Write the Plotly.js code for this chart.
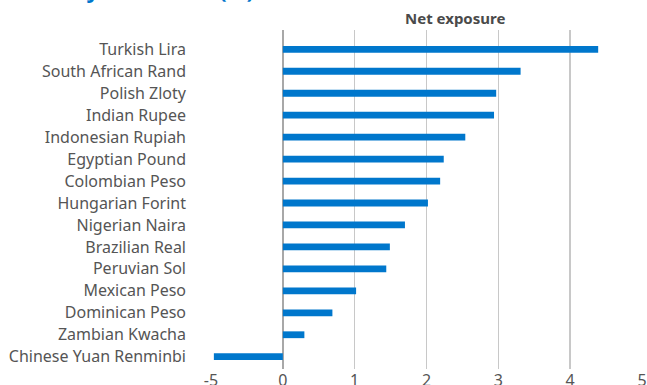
<!DOCTYPE html>
<html>
<head>
<meta charset="utf-8">
<script src="https://cdn.plot.ly/plotly-3.0.1.min.js"></script>
<style>html,body{margin:0;padding:0;background:#fff;}#chart{width:647px;height:385px;}</style>
</head>
<body>
<div id="chart"></div>
<script>
const currencies = [
  "Turkish Lira", "South African Rand", "Polish Zloty", "Indian Rupee",
  "Indonesian Rupiah", "Egyptian Pound", "Colombian Peso", "Hungarian Forint",
  "Nigerian Naira", "Brazilian Real", "Peruvian Sol", "Mexican Peso",
  "Dominican Peso", "Zambian Kwacha", "Chinese Yuan Renminbi"
];
const netExposure = [4.39, 3.31, 2.97, 2.94, 2.54, 2.24, 2.19, 2.02, 1.70, 1.49, 1.44, 1.02, 0.69, 0.30, -4.8];
const tickValues = [-5, 0, 1, 2, 3, 4, 5];
const tickLabels = ["-5", "0", "1", "2", "3", "4", "5"];
const chartTitle = "Currency allocation (%)";
const seriesName = "Net exposure";

// The source axis is broken: the negative segment 0 to -5 spans one unit of width.
const negScale = 5;
const toAxis = v => (v < 0 ? v / negScale : v);

const fontFam = "Noto Sans, Open Sans, sans-serif";

const trace = {
  type: "bar",
  orientation: "h",
  y: currencies,
  x: netExposure.map(toAxis),
  customdata: netExposure,
  hovertemplate: "%{y}: %{customdata}<extra></extra>",
  marker: { color: "#0077CC" },
  width: 0.31
};

const layout = {
  width: 647, height: 385,
  margin: { l: 211, r: 5, t: 30, b: 16 },
  paper_bgcolor: "#fff", plot_bgcolor: "#fff",
  showlegend: false,
  font: { family: fontFam, color: "#555" },
  xaxis: {
    range: [-1, 5], autorange: false,
    tickvals: tickValues.map(toAxis), ticktext: tickLabels,
    showgrid: true, gridcolor: "#c8c8c8", gridwidth: 1.6,
    zeroline: true, zerolinecolor: "#a8a8a8", zerolinewidth: 2,
    showline: false, ticks: "",
    tickfont: { size: 16, color: "#555" }
  },
  yaxis: {
    type: "category", categoryorder: "array", categoryarray: currencies,
    range: [14.56, -0.88], autorange: false,
    showgrid: false, zeroline: false, showline: false, ticks: "",
    ticklabelstandoff: 24,
    tickfont: { size: 16, color: "#555" }
  },
  annotations: [
    { text: "<b>" + seriesName + "</b>", xref: "paper", yref: "paper",
      x: (455 - 211) / 431, y: 1 + (30 - 18.5) / 339, xanchor: "center", yanchor: "middle",
      showarrow: false, font: { size: 15, color: "#4a4a4a", family: fontFam } },
    { text: "<b>" + chartTitle + "</b>", xref: "paper", yref: "paper",
      x: (-2 - 211) / 431, y: 1 + (30 - 6) / 339, xanchor: "left", yanchor: "bottom",
      showarrow: false, font: { size: 22, color: "#0077CC", family: fontFam } }
  ]
};

Plotly.newPlot("chart", [trace], layout, { displayModeBar: false, staticPlot: true });
</script>
</body>
</html>
